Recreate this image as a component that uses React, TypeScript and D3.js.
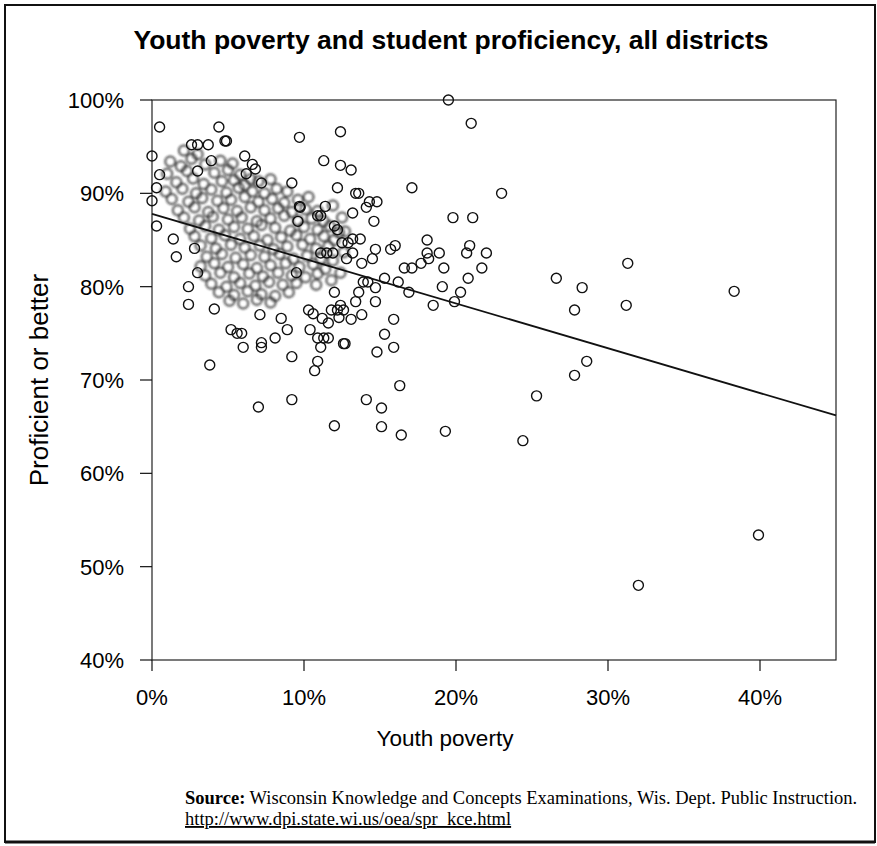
import React from "react";
import * as d3 from "d3";

// Youth poverty (%) vs proficient or better (%), clearly separated districts
const outlinedDistricts: [number, number][] = [
  [19.5, 100.0], [21.0, 97.5], [0.5, 97.1], [4.4, 97.1], [4.8, 95.6], [4.9, 95.6], [2.6, 95.2], [3.0, 95.2],
  [3.7, 95.2], [0.0, 94.0], [6.1, 94.0], [3.9, 93.5], [6.6, 93.1], [6.8, 92.6], [6.2, 92.1], [7.2, 91.1],
  [9.2, 91.1], [9.7, 96.0], [11.3, 93.5], [12.4, 96.6], [12.4, 93.0], [13.1, 92.5], [0.3, 90.6], [0.0, 89.2],
  [9.7, 88.6], [9.75, 88.5], [11.4, 88.6], [10.9, 87.6], [11.1, 87.6], [0.3, 86.5], [1.4, 85.1], [1.6, 83.2],
  [3.0, 81.5], [2.4, 80.0], [2.4, 78.1], [4.1, 77.6], [7.1, 77.0], [8.5, 76.6], [5.2, 75.4], [5.6, 75.0],
  [5.9, 75.0], [6.0, 73.5], [7.2, 74.0], [7.2, 73.5], [8.1, 74.5], [8.9, 75.4], [9.2, 72.5], [3.8, 71.6],
  [9.2, 67.9], [7.0, 67.1], [12.0, 65.1], [10.4, 75.4], [10.9, 74.5], [11.3, 74.5], [11.6, 74.5], [11.1, 73.5],
  [10.9, 72.0], [10.7, 71.0], [10.3, 77.5], [10.6, 77.1], [11.2, 76.6], [11.6, 76.1], [11.8, 77.5], [12.2, 77.5],
  [12.4, 78.0], [12.6, 77.5], [12.3, 76.7], [13.1, 76.5], [13.8, 77.0], [15.9, 76.5], [12.6, 73.9], [12.7, 73.9],
  [15.3, 74.9], [15.9, 73.5], [14.8, 73.0], [16.3, 69.4], [14.1, 67.9], [15.1, 67.0], [15.1, 65.0], [16.4, 64.1],
  [19.3, 64.5], [12.2, 90.6], [17.1, 90.6], [13.4, 90.0], [13.6, 90.0], [14.3, 89.1], [14.8, 89.1], [14.1, 88.5],
  [13.2, 87.9], [14.6, 87.0], [19.8, 87.4], [21.1, 87.4], [23.0, 90.0], [12.0, 86.5], [12.2, 86.1], [13.2, 85.1],
  [13.7, 85.1], [12.5, 84.7], [12.9, 84.7], [11.1, 83.6], [11.5, 83.6], [11.9, 83.6], [13.2, 83.6], [14.7, 84.0],
  [15.7, 84.0], [16.0, 84.4], [18.1, 85.0], [18.1, 83.6], [18.2, 83.0], [18.9, 83.6], [20.9, 84.4], [20.7, 83.6],
  [22.0, 83.6], [14.5, 83.0], [13.8, 82.5], [12.8, 83.0], [16.6, 82.0], [17.1, 82.0], [17.7, 82.5], [19.2, 82.0],
  [20.8, 80.9], [21.7, 82.0], [15.3, 80.9], [16.2, 80.5], [19.1, 80.0], [13.9, 80.5], [14.2, 80.5], [14.7, 79.9],
  [13.6, 79.4], [16.9, 79.4], [20.3, 79.4], [19.9, 78.4], [18.5, 78.0], [12.0, 79.4], [13.4, 78.4], [14.7, 78.4],
  [26.6, 80.9], [28.3, 79.9], [31.3, 82.5], [38.3, 79.5], [27.8, 77.5], [31.2, 78.0], [28.6, 72.0], [27.8, 70.5],
  [25.3, 68.3], [24.4, 63.5], [39.9, 53.4], [32.0, 48.0], [0.5, 92.0], [3.0, 92.4], [9.6, 87.0], [2.8, 84.1],
  [9.5, 81.5],
];

// Densely overlapping districts (rendered soft grey in the print)
const clusteredDistricts: [number, number][] = [
  [2.1, 94.6], [3.0, 94.2], [2.6, 93.7],
  [1.2, 93.4], [1.9, 92.9], [3.5, 93.1], [4.5, 93.5], [5.3, 93.2],
  [1.0, 92.1], [2.3, 92.4], [4.1, 92.2], [5.0, 92.5], [5.8, 92.0], [6.5, 91.5],
  [1.6, 91.2], [2.7, 91.6], [3.4, 91.0], [4.6, 91.3], [5.4, 91.4], [6.1, 90.9], [7.0, 91.3], [7.8, 91.5],
  [0.9, 90.2], [2.0, 90.5], [2.9, 90.0], [3.9, 90.4], [4.9, 90.1], [5.7, 90.6], [6.6, 90.2], [7.4, 90.0], [8.2, 90.5], [8.9, 90.2],
  [1.3, 89.4], [2.4, 89.1], [3.3, 89.5], [4.3, 89.2], [5.2, 89.3], [6.1, 89.6], [7.0, 89.1], [7.9, 89.4], [8.7, 89.0], [9.6, 89.3], [10.3, 89.6],
  [1.7, 88.2], [2.8, 88.5], [3.7, 88.0], [4.7, 88.4], [5.6, 88.1], [6.5, 88.5], [7.4, 88.2], [8.3, 88.4], [9.2, 88.0], [10.1, 88.3], [10.9, 88.1],
  [2.1, 87.4], [3.1, 87.1], [4.0, 87.5], [5.0, 87.2], [5.9, 87.4], [6.9, 87.0], [7.8, 87.3], [8.7, 87.6], [9.6, 87.1], [10.5, 87.3], [11.3, 87.0],
  [2.5, 86.2], [3.5, 86.5], [4.4, 86.1], [5.4, 86.4], [6.3, 86.2], [7.2, 86.6], [8.1, 86.3], [9.1, 86.0], [10.0, 86.4], [10.9, 86.1], [11.7, 86.5], [12.3, 85.8],
  [2.8, 85.4], [3.9, 85.2], [4.8, 85.5], [5.8, 85.1], [6.7, 85.4], [7.6, 85.0], [8.5, 85.3], [9.5, 85.5], [10.4, 85.1], [11.3, 85.4], [12.0, 85.0],
  [3.2, 84.4], [4.2, 84.1], [5.2, 84.5], [6.1, 84.2], [7.1, 84.4], [8.0, 84.0], [8.9, 84.3], [9.9, 84.5], [10.8, 84.1], [11.6, 84.3],
  [3.6, 83.2], [4.6, 83.5], [5.5, 83.1], [6.5, 83.4], [7.4, 83.2], [8.4, 83.5], [9.3, 83.0], [10.2, 83.3], [11.1, 83.0],
  [3.2, 82.2], [4.1, 82.5], [5.0, 82.1], [6.0, 82.4], [6.9, 82.0], [7.8, 82.3], [8.8, 82.5], [9.7, 82.1], [10.6, 82.4], [11.4, 81.9],
  [3.5, 81.2], [4.5, 81.5], [5.4, 81.0], [6.4, 81.4], [7.3, 81.1], [8.3, 81.5], [9.2, 81.2], [10.1, 81.0], [10.9, 81.4],
  [3.9, 80.3], [4.9, 80.0], [5.8, 80.4], [6.8, 80.1], [7.7, 80.5], [8.6, 80.2], [9.5, 80.4],
  [4.4, 79.4], [5.4, 79.1], [6.3, 79.5], [7.2, 79.2], [8.1, 79.0], [9.0, 79.4],
  [5.1, 78.5], [6.0, 78.2], [6.9, 78.6], [7.8, 78.3],
  [11.9, 82.8], [12.4, 81.5], [11.8, 80.7], [10.8, 80.2], [12.6, 83.7], [12.5, 87.4], [11.9, 88.7], [12.7, 85.9],
];

const xTicks = [0, 10, 20, 30, 40];
const yTicks = [40, 50, 60, 70, 80, 90, 100];
const trendIntercept = 87.8;
const trendSlope = -0.48;

const titleText = "Youth poverty and student proficiency, all districts";
const xLabel = "Youth poverty";
const yLabel = "Proficient or better";
const sourceText = "Wisconsin Knowledge and Concepts Examinations, Wis. Dept. Public Instruction.";
const sourceUrl = "http://www.dpi.state.wi.us/oea/spr_kce.html";

export default function App() {
  const W = 877;
  const H = 846;
  const left = 152, right = 836, top = 100, bottom = 660;
  const x = d3.scaleLinear().domain([0, 45]).range([left, right]);
  const y = d3.scaleLinear().domain([40, 100]).range([bottom, top]);
  const line = d3.line<number>().x((d) => x(d)).y((d) => y(trendIntercept + trendSlope * d));
  const sans = "'Liberation Sans', Arial, Helvetica, sans-serif";
  const serif = "'Liberation Serif', 'Times New Roman', serif";
  return (
    <svg width={W} height={H} style={{ position: "absolute", left: 0, top: 0, background: "#fff" }}>
      <defs>
        <filter id="soft" x="-10%" y="-10%" width="120%" height="120%">
          <feGaussianBlur stdDeviation="1.1" />
        </filter>
      </defs>
      <rect x={0} y={0} width={W} height={H} fill="#fff" />
      <rect x={5} y={5} width={870} height={837} fill="none" stroke="#111" strokeWidth={2} />
      <line x1={5} x2={875} y1={842} y2={842} stroke="#111" strokeWidth={3} />
      <text x={451} y={49} textAnchor="middle" fontFamily={sans} fontWeight="bold" fontSize={26.5} fill="#000">
        {titleText}
      </text>
      <rect x={left} y={top} width={right - left} height={bottom - top} fill="none" stroke="#222" strokeWidth={1.2} />
      {yTicks.map((t) => (
        <g key={"y" + t}>
          <line x1={left - 12} x2={left} y1={y(t)} y2={y(t)} stroke="#111" strokeWidth={1.2} />
          <text x={124} y={y(t)} dy="0.36em" textAnchor="end" fontFamily={sans} fontSize={22} fill="#000">
            {t}%
          </text>
        </g>
      ))}
      {xTicks.map((t) => (
        <g key={"x" + t}>
          <line x1={x(t)} x2={x(t)} y1={bottom} y2={bottom + 11} stroke="#111" strokeWidth={1.2} />
          <text x={x(t)} y={705} textAnchor="middle" fontFamily={sans} fontSize={22} fill="#000">
            {t}%
          </text>
        </g>
      ))}
      <text x={445} y={746} textAnchor="middle" fontFamily={sans} fontSize={22.5} fill="#000">
        {xLabel}
      </text>
      <text
        transform={`translate(48,${380}) rotate(-90)`}
        textAnchor="middle"
        fontFamily={sans}
        fontSize={26}
        fill="#000"
      >
        {yLabel}
      </text>
      <g filter="url(#soft)">
        {clusteredDistricts.map(([px, py], i) => (
          <circle key={"c" + i} cx={x(px)} cy={y(py)} r={5} fill="none" stroke="#222" strokeOpacity={0.8} strokeWidth={2} />
        ))}
      </g>
      <path d={line([0, 45]) || ""} fill="none" stroke="#111" strokeWidth={1.8} />
      {outlinedDistricts.map(([px, py], i) => (
        <circle key={"p" + i} cx={x(px)} cy={y(py)} r={5} fill="none" stroke="#111" strokeWidth={1.4} />
      ))}
      <text x={185} y={804} fontFamily={serif} fontSize={18.5} fill="#000">
        <tspan fontWeight="bold">Source:</tspan> {sourceText}
      </text>
      <text x={185} y={825} fontFamily={serif} fontSize={18.5} fill="#000" textDecoration="underline">
        {sourceUrl}
      </text>
    </svg>
  );
}
